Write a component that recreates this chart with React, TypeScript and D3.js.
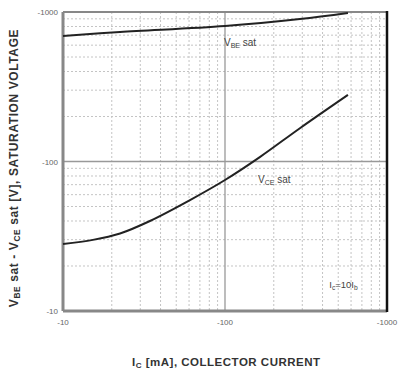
import React, { useEffect, useRef } from "react";
import * as d3 from "d3";

// collector current magnitude (mA) and saturation voltage magnitude (mV)
const vceCurrent = [10, 15.3, 22.5, 34.4, 60.8, 100, 164, 290, 574];
const vceVoltage = [28.1, 29.9, 33.0, 40, 55.2, 75.2, 107, 167, 279];
const vbeCurrent = [10, 22.5, 100, 290, 574];
const vbeVoltage = [691, 735, 806, 898, 985];
const xTicks = [10, 100, 1000];
const yTicks = [10, 100, 1000];

export default function App() {
  const svgRef = useRef<SVGSVGElement | null>(null);

  useEffect(() => {
    if (!svgRef.current) return;
    const svg = d3.select(svgRef.current);
    svg.selectAll("*").remove();

    const margin = { top: 12, right: 12, bottom: 65, left: 63 };
    const W = 399;
    const H = 376;
    const width = W - margin.left - margin.right;
    const height = H - margin.top - margin.bottom;

    const x = d3.scaleLog().domain([10, 1000]).range([0, width]);
    const y = d3.scaleLog().domain([10, 1000]).range([height, 0]);

    const g = svg
      .append("g")
      .attr("transform", `translate(${margin.left},${margin.top})`);

    const minor: number[] = [];
    [10, 100].forEach((d) => {
      for (let k = 2; k <= 9; k++) minor.push(d * k);
    });

    // minor grid
    g.selectAll(".vmin")
      .data(minor)
      .enter()
      .append("line")
      .attr("x1", (d) => x(d))
      .attr("x2", (d) => x(d))
      .attr("y1", 0)
      .attr("y2", height)
      .attr("stroke", "#c4c4c4")
      .attr("stroke-width", 1)
      .attr("stroke-dasharray", "2,2");
    g.selectAll(".hmin")
      .data(minor)
      .enter()
      .append("line")
      .attr("y1", (d) => y(d))
      .attr("y2", (d) => y(d))
      .attr("x1", 0)
      .attr("x2", width)
      .attr("stroke", "#c4c4c4")
      .attr("stroke-width", 1)
      .attr("stroke-dasharray", "2,2");

    // major grid
    g.append("line")
      .attr("x1", x(100))
      .attr("x2", x(100))
      .attr("y1", 0)
      .attr("y2", height)
      .attr("stroke", "#999")
      .attr("stroke-width", 1.3);
    g.append("line")
      .attr("y1", y(100))
      .attr("y2", y(100))
      .attr("x1", 0)
      .attr("x2", width)
      .attr("stroke", "#999")
      .attr("stroke-width", 1.5);

    // frame
    g.append("line")
      .attr("x1", 0).attr("x2", width).attr("y1", 0).attr("y2", 0)
      .attr("stroke", "#888").attr("stroke-width", 2);
    g.append("line")
      .attr("x1", 0).attr("x2", 0).attr("y1", 0).attr("y2", height)
      .attr("stroke", "#888").attr("stroke-width", 3);
    g.append("line")
      .attr("x1", 0).attr("x2", width).attr("y1", height).attr("y2", height)
      .attr("stroke", "#888").attr("stroke-width", 3);
    g.append("line")
      .attr("x1", width).attr("x2", width).attr("y1", -1).attr("y2", height + 1)
      .attr("stroke", "#111").attr("stroke-width", 2.5);

    const line = d3
      .line<[number, number]>()
      .x((d) => x(d[0]))
      .y((d) => y(d[1]))
      .curve(d3.curveCatmullRom.alpha(0.5));

    g.append("path")
      .datum(vceCurrent.map((c, i) => [c, vceVoltage[i]] as [number, number]))
      .attr("fill", "none")
      .attr("stroke", "#222")
      .attr("stroke-width", 2)
      .attr("d", line);
    g.append("path")
      .datum(vbeCurrent.map((c, i) => [c, vbeVoltage[i]] as [number, number]))
      .attr("fill", "none")
      .attr("stroke", "#222")
      .attr("stroke-width", 2)
      .attr("d", line);

    const font = "'Liberation Sans', Arial, sans-serif";

    // tick labels
    g.selectAll(".xt")
      .data(xTicks)
      .enter()
      .append("text")
      .attr("x", (d) => x(d))
      .attr("y", height + 14)
      .attr("text-anchor", "middle")
      .attr("font-family", font)
      .attr("font-size", 8)
      .attr("fill", "#666")
      .text((d) => `-${d}`);
    g.selectAll(".yt")
      .data(yTicks)
      .enter()
      .append("text")
      .attr("x", -5)
      .attr("y", (d) => y(d) + 3)
      .attr("text-anchor", "end")
      .attr("font-family", font)
      .attr("font-size", 8)
      .attr("fill", "#666")
      .text((d) => `-${d}`);

    // annotations
    const sub = (sel: d3.Selection<SVGTextElement, unknown, null, undefined>, main: string, s: string, rest: string) => {
      sel.append("tspan").text(main);
      sel.append("tspan").attr("font-size", "0.7em").attr("dy", 2).text(s);
      sel.append("tspan").attr("dy", -2).text(rest);
    };

    const t1 = g.append("text")
      .attr("x", x(100) - 1)
      .attr("y", y(590))
      .attr("font-family", font)
      .attr("font-size", 10)
      .attr("fill", "#444");
    sub(t1, "V", "BE", " sat");

    const t2 = g.append("text")
      .attr("x", x(160))
      .attr("y", y(72))
      .attr("font-family", font)
      .attr("font-size", 10)
      .attr("fill", "#444");
    sub(t2, "V", "CE", " sat");

    const t3 = g.append("text")
      .attr("x", x(440))
      .attr("y", y(14.2))
      .attr("font-family", font)
      .attr("font-size", 9.5)
      .attr("fill", "#444");
    t3.append("tspan").text("I");
    t3.append("tspan").attr("font-size", "0.7em").attr("dy", 2).text("c");
    t3.append("tspan").attr("dy", -2).text("=10I");
    t3.append("tspan").attr("font-size", "0.7em").attr("dy", 2).text("b");

    // axis titles
    const xl = svg.append("text")
      .attr("x", 132)
      .attr("y", 366)
      .attr("font-family", font)
      .attr("font-size", 11.5)
      .attr("font-weight", "bold")
      .attr("letter-spacing", 0.5)
      .attr("fill", "#333");
    xl.append("tspan").text("I");
    xl.append("tspan").attr("font-size", "0.7em").attr("dy", 2).text("C");
    xl.append("tspan").attr("dy", -2).text(" [mA], COLLECTOR CURRENT");

    const yl = svg.append("text")
      .attr("transform", "translate(18,168) rotate(-90)")
      .attr("text-anchor", "middle")
      .attr("font-family", font)
      .attr("font-size", 12)
      .attr("font-weight", "bold")
      .attr("letter-spacing", 0.6)
      .attr("fill", "#333");
    yl.append("tspan").text("V");
    yl.append("tspan").attr("font-size", "0.7em").attr("dy", 2).text("BE");
    yl.append("tspan").attr("dy", -2).text(" sat  -  V");
    yl.append("tspan").attr("font-size", "0.7em").attr("dy", 2).text("CE");
    yl.append("tspan").attr("dy", -2).text(" sat   [V], SATURATION VOLTAGE");
  }, []);

  return (
    <svg
      ref={svgRef}
      width={399}
      height={376}
      style={{ position: "absolute", left: 0, top: 0, background: "#fff" }}
    />
  );
}
